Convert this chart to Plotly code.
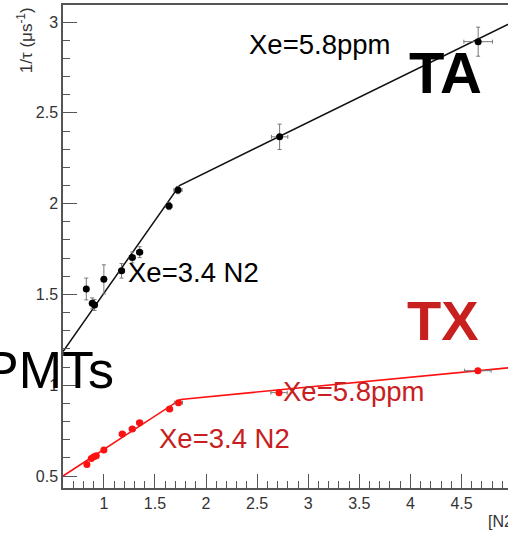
import plotly.graph_objects as go

# ---- data ----
ta_x = [0.828, 0.886, 0.909, 1.0, 1.173, 1.278, 1.35, 1.637, 1.725, 2.72, 4.663]
ta_y = [1.530, 1.451, 1.442, 1.583, 1.630, 1.704, 1.733, 1.987, 2.075, 2.368, 2.892]
ta_ex = [0.02, 0.02, 0.02, 0.02, 0.03, 0.03, 0.03, 0.03, 0.04, 0.08, 0.14]
ta_ey = [0.06, 0.03, 0.03, 0.08, 0.04, 0.03, 0.03, 0.02, 0.02, 0.07, 0.08]

tx_x = [0.834, 0.877, 0.902, 0.926, 1.0, 1.18, 1.278, 1.35, 1.643, 1.73, 2.714, 4.66]
tx_y = [0.564, 0.597, 0.606, 0.612, 0.643, 0.731, 0.759, 0.794, 0.869, 0.904, 0.959, 1.080]
tx_ex = [0.02, 0.02, 0.02, 0.02, 0.02, 0.03, 0.03, 0.03, 0.03, 0.04, 0.08, 0.13]
tx_ey = [0.01, 0.01, 0.01, 0.01, 0.01, 0.01, 0.01, 0.01, 0.01, 0.01, 0.01, 0.01]

ta_fit_x = [0.6, 1.74, 5.0]
ta_fit_y = [1.186, 2.10, 3.00]
tx_fit_x = [0.6, 1.75, 5.0]
tx_fit_y = [0.50, 0.922, 1.098]

y_ticks = [0.5, 1, 1.5, 2, 2.5, 3]
y_labels = ["0.5", "1", "1.5", "2", "2.5", "3"]
x_ticks = [1, 1.5, 2, 2.5, 3, 3.5, 4, 4.5]
x_labels = ["1", "1.5", "2", "2.5", "3", "3.5", "4", "4.5"]

RED_TXT = "#c8201e"
FONT = "Liberation Sans, Arial, sans-serif"

fig = go.Figure()
fig.add_trace(go.Scatter(x=ta_fit_x, y=ta_fit_y, mode="lines",
                         line=dict(color="#111111", width=1.5), hoverinfo="skip"))
fig.add_trace(go.Scatter(x=tx_fit_x, y=tx_fit_y, mode="lines",
                         line=dict(color="#ff1010", width=1.5), hoverinfo="skip"))
fig.add_trace(go.Scatter(
    x=ta_x, y=ta_y, mode="markers",
    marker=dict(color="black", size=7),
    error_x=dict(type="data", array=ta_ex, color="#777777", thickness=1, width=2),
    error_y=dict(type="data", array=ta_ey, color="#777777", thickness=1, width=2)))
fig.add_trace(go.Scatter(
    x=tx_x, y=tx_y, mode="markers",
    marker=dict(color="#ff1010", size=7),
    error_x=dict(type="data", array=tx_ex, color="#777777", thickness=1, width=2),
    error_y=dict(type="data", array=tx_ey, color="#777777", thickness=1, width=2)))

ann = [
    dict(text="Xe=5.8ppm", x=2.40, y=2.879, color="black", size=27.5, bold=False),
    dict(text="TA", x=3.962, y=2.725, color="black", size=58, bold=True),
    dict(text="Xe=3.4 N2", x=1.215, y=1.623, color="black", size=27.5, bold=False),
    dict(text="TX", x=3.945, y=1.359, color=RED_TXT, size=56, bold=True),
    dict(text="Xe=5.8ppm", x=2.733, y=0.968, color=RED_TXT, size=27.5, bold=False),
    dict(text="Xe=3.4 N2", x=1.522, y=0.709, color=RED_TXT, size=27.5, bold=False),
]
for a in ann:
    t = "<b>%s</b>" % a["text"] if a["bold"] else a["text"]
    fig.add_annotation(x=a["x"], y=a["y"], xref="x", yref="y", text=t,
                       showarrow=False, xanchor="left", yanchor="middle",
                       font=dict(family=FONT, size=a["size"], color=a["color"]))

fig.add_annotation(x=1.12, y=1.084, xref="x", yref="y", text="PMTs",
                   showarrow=False, xanchor="right", yanchor="middle",
                   font=dict(family=FONT, size=52, color="black"))
fig.add_annotation(x=-0.085, y=1.0, xref="paper", yref="paper",
                   text="1/τ (μs<sup>-1</sup>)", textangle=-90,
                   showarrow=False, xanchor="center", yanchor="top",
                   font=dict(family=FONT, size=17, color="#333333"))
fig.add_annotation(x=0.950, y=-0.070, xref="paper", yref="paper",
                   text="[N2] (ppm)", showarrow=False, xanchor="left", yanchor="middle",
                   font=dict(family=FONT, size=16, color="#333333"))

fig.update_layout(
    width=508, height=533,
    margin=dict(l=63, r=0, t=5, b=45),
    plot_bgcolor="white", paper_bgcolor="white",
    showlegend=False,
    font=dict(family=FONT, color="#333333"),
)
fig.update_xaxes(range=[0.6, 4.955], showgrid=False, zeroline=False,
                 showline=True, linecolor="#555555", linewidth=1.5, mirror=True,
                 tickvals=x_ticks, ticktext=x_labels, ticks="inside", ticklen=14,
                 tickcolor="#555555", tickfont=dict(size=16, color="#333333"),
                 minor=dict(dtick=0.1, tick0=0, ticks="inside", ticklen=7, tickcolor="#555555"))
fig.update_yaxes(range=[0.434, 3.094], showgrid=False, zeroline=False,
                 showline=True, linecolor="#555555", linewidth=1.5,
                 tickvals=y_ticks, ticktext=y_labels, ticks="inside", ticklen=14,
                 tickcolor="#555555", tickfont=dict(size=16, color="#333333"),
                 minor=dict(dtick=0.1, tick0=0, ticks="inside", ticklen=7, tickcolor="#555555"))

fig.write_html("out.html")
